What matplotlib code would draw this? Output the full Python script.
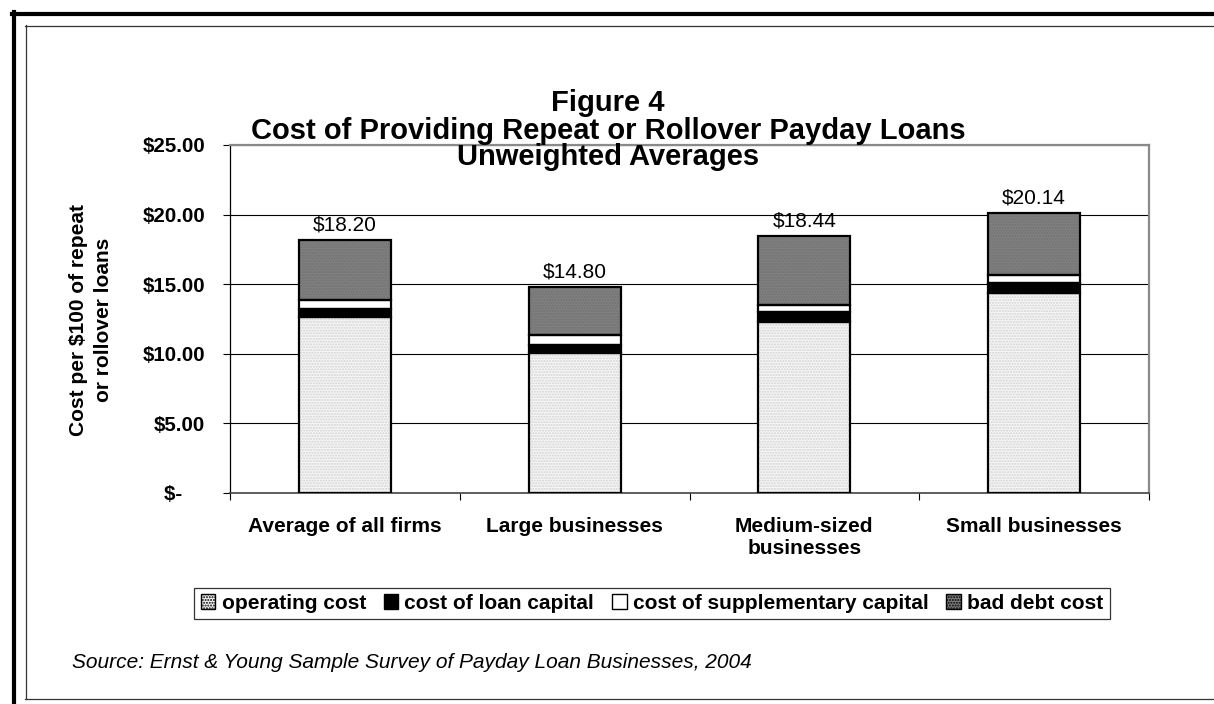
import matplotlib
matplotlib.use("Agg")
import matplotlib.pyplot as plt
from matplotlib.patches import Patch
from matplotlib.lines import Line2D
import numpy as np

# --- data -------------------------------------------------------------
categories = ["Average of all firms", "Large businesses",
              "Medium-sized\nbusinesses", "Small businesses"]
operating_cost = [12.62, 10.04, 12.26, 14.39]
loan_capital_cost = [0.62, 0.59, 0.72, 0.67]
supplementary_capital_cost = [0.63, 0.72, 0.52, 0.60]
bad_debt_cost = [4.33, 3.45, 4.94, 4.48]
series_names = ["operating cost", "cost of loan capital",
                "cost of supplementary capital", "bad debt cost"]
y_ticks = [0, 5, 10, 15, 20, 25]
y_tick_labels = ["$-    ", "$5.00", "$10.00", "$15.00", "$20.00", "$25.00"]

plt.rcParams["font.family"] = ["Liberation Sans", "DejaVu Sans"]

W, H = 1214, 704
fig = plt.figure(figsize=(W / 100, H / 100), dpi=100)
fig.patch.set_facecolor("white")


def fx(px):
    return px / W


def fy(py):
    return 1 - py / H


# page frames
fig.add_artist(Line2D([fx(14), fx(14)], [fy(12), fy(H + 5)], color="black", lw=3.0))
fig.add_artist(Line2D([fx(12), fx(W + 5)], [fy(14), fy(14)], color="black", lw=3.0))
fig.add_artist(Line2D([fx(25.5), fx(25.5)], [fy(25), fy(699)], color="#333333", lw=0.9))
fig.add_artist(Line2D([fx(25), fx(W + 5)], [fy(25.5), fy(25.5)], color="#333333", lw=0.9))
fig.add_artist(Line2D([fx(25), fx(W + 5)], [fy(699), fy(699)], color="#333333", lw=0.9))

ax = fig.add_axes([fx(230), fy(493), fx(1149) - fx(230), fy(145) - fy(493)])

x = np.arange(len(categories))
width = 0.4

styles = [
    dict(facecolor="#f6f6f6", hatch="......", hatch_color="#d2d2d2"),
    dict(facecolor="black", hatch=None, hatch_color="black"),
    dict(facecolor="white", hatch=None, hatch_color="white"),
    dict(facecolor="#808080", hatch="......", hatch_color="#727272"),
]
series = [operating_cost, loan_capital_cost, supplementary_capital_cost, bad_debt_cost]

bottom = np.zeros(len(categories))
for vals, st in zip(series, styles):
    vals = np.array(vals)
    # textured fill
    ax.bar(x, vals, width, bottom=bottom, color=st["facecolor"],
           edgecolor=st["hatch_color"], hatch=st["hatch"], linewidth=0, zorder=3)
    # black outline
    ax.bar(x, vals, width, bottom=bottom, fill=False,
           edgecolor="black", linewidth=1.6, zorder=4)
    bottom = bottom + vals

totals = bottom
for xi, t in zip(x, totals):
    ax.annotate(f"${t:.2f}", (xi, t), xytext=(0, 4), textcoords="offset points",
                ha="center", va="bottom", fontsize=15, color="black")

ax.set_xlim(-0.5, len(categories) - 0.5)
ax.set_ylim(0, 25)
ax.set_yticks(y_ticks)
ax.set_yticklabels(y_tick_labels, fontsize=14.8, fontweight="bold")
ax.yaxis.grid(True, color="black", linewidth=0.8, zorder=0)
ax.set_axisbelow(True)

ax.set_xticks(x)
ax.set_xticklabels(categories, fontsize=15, fontweight="bold", linespacing=1.2)
ax.set_xticks(np.arange(-0.5, len(categories)), minor=True)
ax.tick_params(axis="x", which="major", length=0, pad=17)
ax.tick_params(axis="x", which="minor", length=5, width=0.8, direction="out")
ax.tick_params(axis="y", length=5, width=0.8, direction="out", pad=13)

for side in ("top", "right"):
    ax.spines[side].set_color("#8a8a8a")
    ax.spines[side].set_linewidth(1.6)
ax.spines["left"].set_color("black")
ax.spines["left"].set_linewidth(0.9)
ax.spines["bottom"].set_color("#444444")
ax.spines["bottom"].set_linewidth(1.2)

# y-axis title
fig.text(fx(91), fy(320), "Cost per $100 of repeat\nor rollover loans",
         rotation=90, ha="center", va="center", fontsize=15,
         fontweight="bold", linespacing=1.4, multialignment="center")

# titles
title_lines = ["Figure 4", "Cost of Providing Repeat or Rollover Payday Loans",
               "Unweighted Averages"]
for line, ypx in zip(title_lines, [103, 131, 157]):
    fig.text(fx(608), fy(ypx), line, ha="center", va="center",
             fontsize=21, fontweight="bold")

# legend
handles = [Patch(facecolor=st["facecolor"], hatch=st["hatch"],
                 edgecolor="black", linewidth=1.0) for st in styles]
leg = fig.legend(handles, series_names, loc="center",
                 bbox_to_anchor=(fx(652), fy(603.5)), ncol=4,
                 prop=dict(size=15, weight="bold"), frameon=True,
                 fancybox=False, handlelength=0.7, handleheight=0.7,
                 handletextpad=0.3, columnspacing=0.85, borderpad=0.3,
                 borderaxespad=0)
leg.get_frame().set_edgecolor("black")
leg.get_frame().set_linewidth(0.9)

fig.text(fx(72), fy(663), "Source: Ernst & Young Sample Survey of Payday Loan Businesses, 2004",
         ha="left", va="center", fontsize=15, fontstyle="italic")

fig.savefig("out.png", dpi=100)
